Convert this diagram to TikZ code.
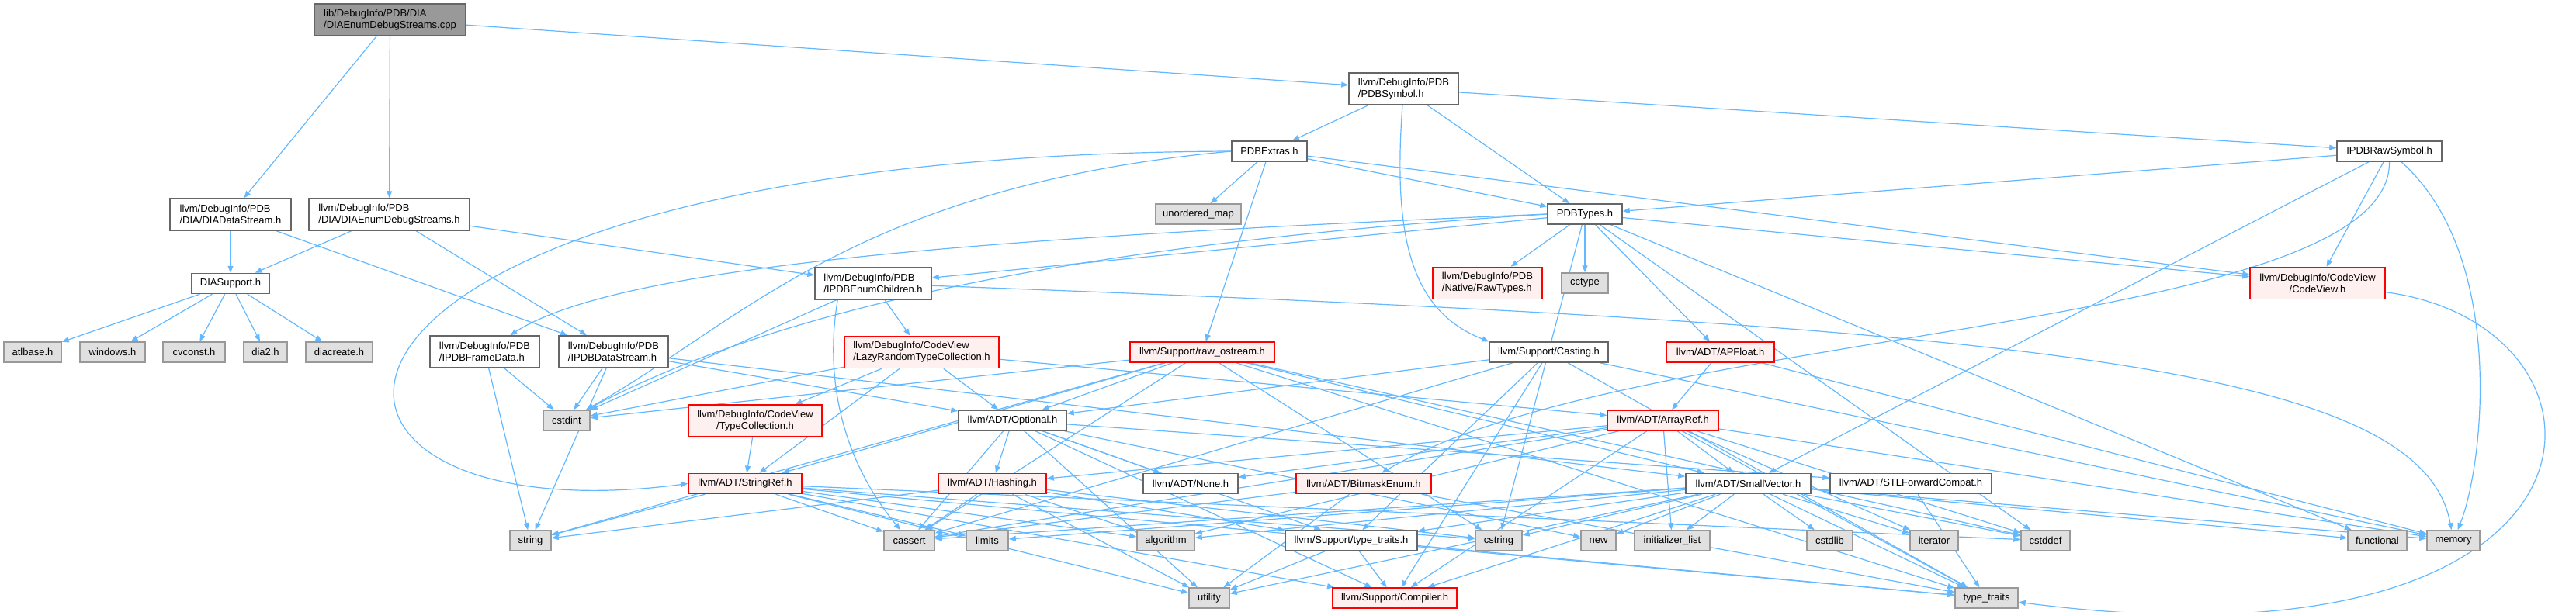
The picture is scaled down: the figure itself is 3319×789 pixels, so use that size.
\documentclass[tikz,border=0pt]{standalone}
\usepackage{fontspec}
\setmainfont{Liberation Sans}
\usetikzlibrary{arrows.meta,backgrounds}

\definecolor{edgeblue}{HTML}{63B8FF}
\definecolor{boxgray}{HTML}{666666}
\definecolor{sysgray}{HTML}{E0E0E0}
\definecolor{sysline}{HTML}{999999}
\definecolor{cutfill}{HTML}{FFF0F0}
\definecolor{cutline}{HTML}{FF0000}

\tikzset{
  hdr/.style={draw=boxgray, fill=white, line width=1.5pt, font=\fontsize{13}{15}\selectfont,
    inner xsep=4pt, inner ysep=2pt, minimum height=26pt, align=left},
  twoline/.style={minimum height=41pt},
  syshdr/.style={hdr, draw=sysline, fill=sysgray},
  cuthdr/.style={hdr, draw=cutline, fill=cutfill},
  rootfile/.style={hdr, draw=boxgray, fill=sysline},
  edge/.style={draw=edgeblue, line width=1.2pt, -{Triangle[length=9pt,width=7pt]}},
}

\begin{document}
\begin{tikzpicture}[x=1pt, y=-1pt]
        \useasboundingbox (0,0) rectangle (3319,789);

        % Top rows
        \node[rootfile, twoline, minimum width=195pt] (root) at (502.5,25.5) {lib/DebugInfo/PDB/DIA\\/DIAEnumDebugStreams.cpp};
        \node[hdr, twoline, minimum width=141pt] (pdbsymbol) at (1808.5,114.5) {llvm/DebugInfo/PDB\\/PDBSymbol.h};
        \node[hdr, minimum width=97pt] (pdbextras) at (1635.5,195) {PDBExtras.h};
        \node[hdr, minimum width=135pt] (rawsymbol) at (3078.5,195) {IPDBRawSymbol.h};
        \node[hdr, twoline, minimum width=156pt] (diadata) at (297,276.5) {llvm/DebugInfo/PDB\\/DIA/DIADataStream.h};
        \node[hdr, twoline, minimum width=207pt] (diaenum) at (501.5,276.5) {llvm/DebugInfo/PDB\\/DIA/DIAEnumDebugStreams.h};
        \node[syshdr, minimum width=110pt] (umap) at (1544,276) {unordered\_map};
        \node[hdr, minimum width=96pt] (pdbtypes) at (2042,276) {PDBTypes.h};

        % Middle rows
        \node[hdr, minimum width=100pt] (diasupport) at (297,365.5) {DIASupport.h};
        \node[hdr, twoline, minimum width=150pt] (enumchildren) at (1125,365.5) {llvm/DebugInfo/PDB\\/IPDBEnumChildren.h};
        \node[cuthdr, twoline, minimum width=141pt] (rawtypes) at (1916.5,365) {llvm/DebugInfo/PDB\\/Native/RawTypes.h};
        \node[syshdr, minimum width=60pt] (cctype) at (2042,365) {cctype};
        \node[cuthdr, twoline, minimum width=174pt, align=center] (codeview) at (2986,365) {llvm/DebugInfo/CodeView\\/CodeView.h};

        \node[syshdr, minimum width=74pt] (atlbase) at (42,454) {atlbase.h};
        \node[syshdr, minimum width=84pt] (windowsh) at (145,454) {windows.h};
        \node[syshdr, minimum width=80pt] (cvconst) at (250,454) {cvconst.h};
        \node[syshdr, minimum width=56pt] (diatwo) at (342,454) {dia2.h};
        \node[syshdr, minimum width=86pt] (diacreate) at (437,454) {diacreate.h};
        \node[hdr, twoline, minimum width=141pt] (framedata) at (624.5,453.5) {llvm/DebugInfo/PDB\\/IPDBFrameData.h};
        \node[hdr, twoline, minimum width=141pt] (datastream) at (790.5,453.5) {llvm/DebugInfo/PDB\\/IPDBDataStream.h};
        \node[cuthdr, twoline, minimum width=199pt] (lazytc) at (1187.5,454) {llvm/DebugInfo/CodeView\\/LazyRandomTypeCollection.h};
        \node[cuthdr, minimum width=186pt] (rawostream) at (1549,454) {llvm/Support/raw\_ostream.h};
        \node[hdr, minimum width=153pt] (casting) at (1995.5,454) {llvm/Support/Casting.h};
        \node[cuthdr, minimum width=139pt] (apfloat) at (2216.5,454) {llvm/ADT/APFloat.h};

        \node[syshdr, minimum width=60pt] (cstdint) at (730,542) {cstdint};
        \node[cuthdr, twoline, minimum width=172pt, align=center] (typecoll) at (973,542.5) {llvm/DebugInfo/CodeView\\/TypeCollection.h};
        \node[hdr, minimum width=139pt] (optional) at (1304.5,542) {llvm/ADT/Optional.h};
        \node[cuthdr, minimum width=143pt] (arrayref) at (2142.5,542) {llvm/ADT/ArrayRef.h};

        \node[cuthdr, minimum width=146pt] (stringref) at (960,623.5) {llvm/ADT/StringRef.h};
        \node[cuthdr, minimum width=139pt] (hashing) at (1278.5,623.5) {llvm/ADT/Hashing.h};
        \node[hdr, minimum width=122pt] (noneh) at (1534,623.5) {llvm/ADT/None.h};
        \node[cuthdr, minimum width=174pt] (bitmask) at (1757,623.5) {llvm/ADT/BitmaskEnum.h};
        \node[hdr, minimum width=161pt] (smallvec) at (2252.5,623.5) {llvm/ADT/SmallVector.h};
        \node[hdr, minimum width=208pt] (stlfc) at (2462,623.5) {llvm/ADT/STLForwardCompat.h};

        % System headers, bottom rows
        \node[syshdr, minimum width=53pt] (stringh) at (683.5,697) {string};
        \node[syshdr, minimum width=65pt] (cassert) at (1171.5,697) {cassert};
        \node[syshdr, minimum width=54pt] (limits) at (1272,697) {limits};
        \node[syshdr, minimum width=74pt] (algorithm) at (1502,697) {algorithm};
        \node[hdr, minimum width=170pt] (sptraits) at (1741,697) {llvm/Support/type\_traits.h};
        \node[syshdr, minimum width=60pt] (cstring) at (1931,697) {cstring};
        \node[syshdr, minimum width=45pt] (newh) at (2059.5,697) {new};
        \node[syshdr, minimum width=97pt] (initlist) at (2154.5,697) {initializer\_list};
        \node[syshdr, minimum width=59pt] (cstdlib) at (2357.5,697) {cstdlib};
        \node[syshdr, minimum width=62pt] (iterator) at (2492,697) {iterator};
        \node[syshdr, minimum width=63pt] (cstddef) at (2635.5,697) {cstddef};
        \node[syshdr, minimum width=76pt] (functional) at (3063,697) {functional};
        \node[syshdr, minimum width=68pt] (memory) at (3161,697) {memory};

        \node[syshdr, minimum width=52pt] (utility) at (1558,771) {utility};
        \node[cuthdr, minimum width=160pt] (compiler) at (1797,771) {llvm/Support/Compiler.h};
        \node[syshdr, minimum width=81pt] (typetraits) at (2559.5,771) {type\_traits};

        % Include edges
        \begin{pgfonlayer}{background}
        \foreach \a/\b in {root/diadata, root/diaenum, root/pdbsymbol,
            diadata/diasupport, diadata/datastream,
            diaenum/diasupport, diaenum/datastream, diaenum/enumchildren,
            diasupport/atlbase, diasupport/windowsh, diasupport/cvconst, diasupport/diatwo, diasupport/diacreate,
            pdbsymbol/pdbextras, pdbsymbol/pdbtypes, pdbsymbol/rawsymbol,
            pdbextras/umap, pdbextras/pdbtypes, pdbextras/codeview, pdbextras/rawostream,
            rawsymbol/pdbtypes, rawsymbol/codeview, rawsymbol/smallvec,
            pdbtypes/enumchildren, pdbtypes/rawtypes, pdbtypes/cctype,
            pdbtypes/cstring, pdbtypes/cstddef, pdbtypes/functional, pdbtypes/apfloat, pdbtypes/codeview,
            framedata/cstdint, framedata/stringh,
            datastream/cstdint, datastream/stringh, datastream/optional, datastream/smallvec,
            enumchildren/lazytc, enumchildren/cstdint,
            lazytc/typecoll, lazytc/optional, lazytc/stringref, lazytc/arrayref, lazytc/cstdint,
            typecoll/stringref,
            rawostream/optional, rawostream/stringref, rawostream/cstdint, rawostream/stringh, rawostream/cassert,
            rawostream/cstring, rawostream/cstddef, rawostream/typetraits, rawostream/smallvec,
            casting/optional, casting/cassert, casting/sptraits, casting/compiler, casting/memory, casting/typetraits,
            apfloat/arrayref, apfloat/memory,
            optional/hashing, optional/noneh, optional/stlfc, optional/compiler, optional/sptraits,
            optional/cassert, optional/newh, optional/utility,
            stringref/stringh, stringref/cassert, stringref/limits, stringref/algorithm, stringref/cstring,
            stringref/cstddef, stringref/typetraits, stringref/utility, stringref/compiler,
            hashing/sptraits, hashing/algorithm, hashing/cassert, hashing/cstring, hashing/stringh, hashing/utility,
            bitmask/cassert, bitmask/utility, bitmask/typetraits,
            arrayref/hashing, arrayref/noneh, arrayref/smallvec, arrayref/compiler, arrayref/algorithm,
            arrayref/cassert, arrayref/cstddef, arrayref/initlist, arrayref/iterator, arrayref/memory, arrayref/typetraits,
            smallvec/compiler, smallvec/sptraits, smallvec/algorithm, smallvec/cassert, smallvec/cstddef,
            smallvec/cstdlib, smallvec/cstring, smallvec/functional, smallvec/initlist, smallvec/iterator,
            smallvec/limits, smallvec/memory, smallvec/newh, smallvec/typetraits, smallvec/utility,
            stlfc/typetraits,
            sptraits/compiler, sptraits/utility, sptraits/typetraits}
            \draw[edge] (\a) -- (\b);

        % Curved edges
        \draw[edge] (pdbextras.west) .. controls (300,200) and (300,700) .. (stringref.west);
        \draw[edge] (pdbextras.west) .. controls (1100,240) and (950,420) .. (cstdint);
        \draw[edge] (pdbtypes.west) .. controls (1300,305) and (800,340) .. (framedata);
        \draw[edge] (pdbtypes.west) .. controls (1300,320) and (960,420) .. (cstdint);
        \draw[edge] (pdbsymbol) .. controls (1795,300) and (1815,400) .. (casting.north west);
        \draw[edge] ([xshift=30pt]enumchildren.south west) .. controls (1065,470) and (1075,580) .. (cassert);
        \draw[edge] (enumchildren) .. controls (2600,420) and (3120,470) .. (memory);
        \draw[edge] (rawsymbol) .. controls (3230,330) and (3200,600) .. (memory);
        \draw[edge] (rawsymbol) .. controls (3080,430) and (2100,420) .. (bitmask);
        \draw[edge] (codeview) .. controls (3400,420) and (3400,880) .. (typetraits);
        \end{pgfonlayer}

    \end{tikzpicture}
\end{document}
